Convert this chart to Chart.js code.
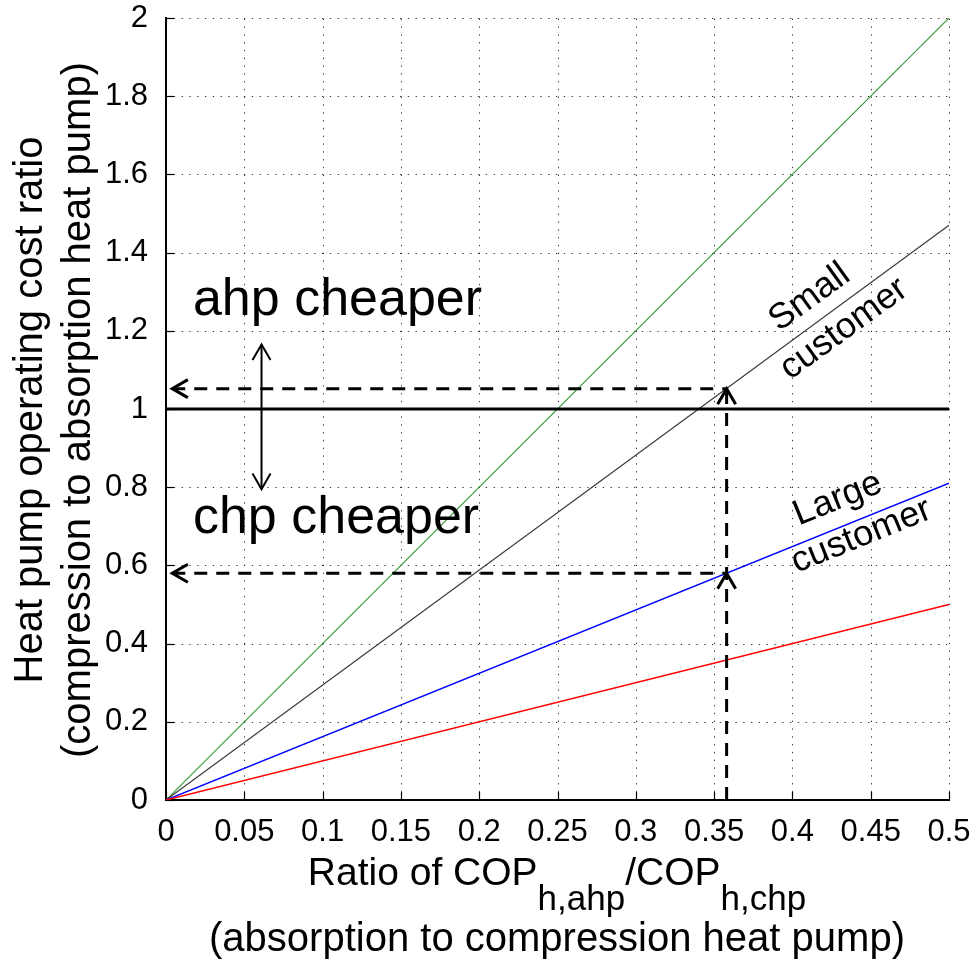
<!DOCTYPE html>
<html><head><meta charset="utf-8">
<script src="https://cdn.jsdelivr.net/npm/chart.js@4/dist/chart.umd.min.js"></script>
<style>html,body{margin:0;padding:0;background:#fff;}#wrap{width:973px;height:960px;}</style>
</head><body><div id="wrap"><canvas id="c" width="973" height="960"></canvas></div>
<script>
// ---- data ----
const xEnds = [0, 0.5];                 // COP ratio range of each line
const greenSeries = [0, 2.0];
const smallCustomer = [0, 1.47];        // black line
const largeCustomer = [0, 0.81];        // blue line
const redSeries = [0, 0.5];
const breakEvenY = 1;
const readX = 0.358;                    // reading position on x
const smallAtRead = 1.052;
const largeAtRead = 0.58;
const arrowTipX = 0.004;
const doubleArrowX = 0.061;
const doubleArrowY = [0.795, 1.165];
const xTicks = [0, 0.05, 0.1, 0.15, 0.2, 0.25, 0.3, 0.35, 0.4, 0.45, 0.5];
const xTickLabels = ['0','0.05','0.1','0.15','0.2','0.25','0.3','0.35','0.4','0.45','0.5'];
const yTicks = [0, 0.2, 0.4, 0.6, 0.8, 1, 1.2, 1.4, 1.6, 1.8, 2];
const yTickLabels = ['0','0.2','0.4','0.6','0.8','1','1.2','1.4','1.6','1.8','2'];
const textAhp = {label: 'ahp cheaper', x: 0.0172, y: 1.240};
const textChp = {label: 'chp cheaper', x: 0.0172, y: 0.683};
const rotLabels = [
  {label: 'Small', x: 0.411, y: 1.285, angle: -36},
  {label: 'customer', x: 0.433, y: 1.205, angle: -36},
  {label: 'Large', x: 0.429, y: 0.770, angle: -22},
  {label: 'customer', x: 0.444, y: 0.675, angle: -22}
];
const yTitle = ['Heat pump operating cost ratio', '(compression to absorption heat pump)'];
const xTitleParts = ['Ratio of COP', 'h,ahp', '/COP', 'h,chp'];
const xTitle2 = '(absorption to compression heat pump)';

const FONT = '"Liberation Sans", Arial, sans-serif';
const pts = (xs, ys) => xs.map((x, i) => ({x, y: ys[i]}));

const solid = (data, color, w) => ({data, borderColor: color, borderWidth: w, pointRadius: 0, fill: false, tension: 0});
const dashed = (data) => ({data, borderColor: '#000', borderWidth: 3, borderDash: [13, 9], pointRadius: 0, fill: false, borderCapStyle: 'butt'});

const datasets = [
  dashed(pts([arrowTipX, readX], [smallAtRead, smallAtRead])),
  dashed(pts([arrowTipX, readX], [largeAtRead, largeAtRead])),
  dashed(pts([readX, readX], [0, smallAtRead])),
  solid(pts([doubleArrowX, doubleArrowX], doubleArrowY), '#000', 2),
  solid(pts([xEnds[0], xEnds[1]], [breakEvenY, breakEvenY]), '#000', 3),
  solid(pts(xEnds, redSeries), '#ff0000', 1.5),
  solid(pts(xEnds, largeCustomer), '#0000ff', 1.5),
  solid(pts(xEnds, smallCustomer), '#3a3a3a', 1.2),
  solid(pts(xEnds, greenSeries), '#3a9a3a', 1.2)
];

function arrowHead(ctx, px, py, dir, w) {
  // dir: angle pointing direction (radians), open V head
  const len = 18, spread = Math.PI / 6;
  ctx.save();
  ctx.strokeStyle = '#000'; ctx.lineWidth = w; ctx.lineCap = 'butt'; ctx.lineJoin = 'miter';
  ctx.setLineDash([]);
  ctx.beginPath();
  ctx.moveTo(px - len * Math.cos(dir - spread), py - len * Math.sin(dir - spread));
  ctx.lineTo(px, py);
  ctx.lineTo(px - len * Math.cos(dir + spread), py - len * Math.sin(dir + spread));
  ctx.stroke();
  ctx.restore();
}

const decor = {
  id: 'decor',
  beforeDatasetsDraw(chart) {
    const {ctx, chartArea: a, scales: {x, y}} = chart;
    ctx.save();
    ctx.strokeStyle = '#333'; ctx.lineWidth = 1; ctx.setLineDash([1.3, 6.5]);
    xTicks.forEach(v => { if (v === 0) return; const p = Math.round(x.getPixelForValue(v)) + 0.5;
      ctx.beginPath(); ctx.moveTo(p, a.bottom); ctx.lineTo(p, a.top); ctx.stroke(); });
    yTicks.forEach(v => { if (v === 0) return; const p = Math.round(y.getPixelForValue(v)) + 0.5;
      ctx.beginPath(); ctx.moveTo(a.left, p); ctx.lineTo(a.right, p); ctx.stroke(); });
    ctx.setLineDash([]); ctx.strokeStyle = '#000'; ctx.lineWidth = 1.2;
    xTicks.forEach(v => { const p = Math.round(x.getPixelForValue(v)) + 0.5;
      ctx.beginPath(); ctx.moveTo(p, a.bottom); ctx.lineTo(p, a.bottom - 8); ctx.stroke(); });
    yTicks.forEach(v => { const p = Math.round(y.getPixelForValue(v)) + 0.5;
      ctx.beginPath(); ctx.moveTo(a.left, p); ctx.lineTo(a.left + 8, p); ctx.stroke(); });
    ctx.restore();
  },
  afterDatasetsDraw(chart) {
    const {ctx, scales: {x, y}} = chart;
    const X = v => x.getPixelForValue(v), Y = v => y.getPixelForValue(v);
    arrowHead(ctx, X(readX), Y(smallAtRead), -Math.PI / 2, 3);
    arrowHead(ctx, X(readX), Y(largeAtRead), -Math.PI / 2, 3);
    arrowHead(ctx, X(arrowTipX), Y(smallAtRead), Math.PI, 3);
    arrowHead(ctx, X(arrowTipX), Y(largeAtRead), Math.PI, 3);
    arrowHead(ctx, X(doubleArrowX), Y(doubleArrowY[1]), -Math.PI / 2, 2);
    arrowHead(ctx, X(doubleArrowX), Y(doubleArrowY[0]), Math.PI / 2, 2);

    ctx.save();
    ctx.fillStyle = '#000';
    ctx.font = '52px ' + FONT; ctx.textAlign = 'left'; ctx.textBaseline = 'alphabetic';
    [textAhp, textChp].forEach(t => ctx.fillText(t.label, X(t.x), Y(t.y)));
    ctx.font = '36px ' + FONT; ctx.textAlign = 'center'; ctx.textBaseline = 'middle';
    rotLabels.forEach(t => {
      ctx.save(); ctx.translate(X(t.x), Y(t.y)); ctx.rotate(t.angle * Math.PI / 180);
      ctx.fillText(t.label, 0, 0); ctx.restore();
    });
    ctx.restore();
  },
  afterDraw(chart) {
    const {ctx} = chart;
    ctx.save();
    ctx.fillStyle = '#000';
    // y title
    ctx.font = '40px ' + FONT; ctx.textAlign = 'center'; ctx.textBaseline = 'middle';
    [[31, yTitle[0]], [79, yTitle[1]]].forEach(([cx, s]) => {
      ctx.save(); ctx.translate(cx, 410); ctx.rotate(-Math.PI / 2); ctx.fillText(s, 0, 0); ctx.restore();
    });
    // x title line 1 with subscripts
    const mainF = '39px ' + FONT, subF = '35px ' + FONT;
    const fonts = [mainF, subF, mainF, subF];
    let widths = xTitleParts.map((s, i) => { ctx.font = fonts[i]; return ctx.measureText(s).width; });
    const total = widths.reduce((a, b) => a + b, 0);
    let cx = 557 - total / 2;
    ctx.textAlign = 'left'; ctx.textBaseline = 'alphabetic';
    xTitleParts.forEach((s, i) => {
      ctx.font = fonts[i];
      ctx.fillText(s, cx, i % 2 ? 910 : 885);
      cx += widths[i];
    });
    ctx.font = '40px ' + FONT; ctx.textAlign = 'center';
    ctx.fillText(xTitle2, 557, 951);
    ctx.restore();
  }
};

new Chart(document.getElementById('c'), {
  type: 'line',
  data: {datasets},
  options: {
    responsive: false, animation: false, devicePixelRatio: 1,
    parsing: true,
    layout: {padding: {top: 18, right: 24, left: 0, bottom: 0}},
    plugins: {legend: {display: false}, tooltip: {enabled: false}},
    scales: {
      x: {
        type: 'linear', min: 0, max: 0.5,
        grid: {display: false},
        border: {display: true, color: '#000', width: 2},
        afterBuildTicks: s => { s.ticks = xTicks.map(v => ({value: v})); },
        ticks: {color: '#000', font: {family: FONT, size: 31}, padding: 6, maxRotation: 0, autoSkip: false,
          callback: (v, i) => xTickLabels[i]},
        afterFit: s => { s.height = 160; s.paddingLeft = 0; s.paddingRight = 0; }
      },
      y: {
        type: 'linear', min: 0, max: 2,
        grid: {display: false},
        border: {display: true, color: '#000', width: 2},
        afterBuildTicks: s => { s.ticks = yTicks.map(v => ({value: v})); },
        ticks: {color: '#000', font: {family: FONT, size: 31}, padding: 10, autoSkip: false,
          callback: (v, i) => yTickLabels[i]},
        afterFit: s => { s.width = 166; s.paddingTop = 0; s.paddingBottom = 0; }
      }
    }
  },
  plugins: [decor]
});
</script></body></html>
